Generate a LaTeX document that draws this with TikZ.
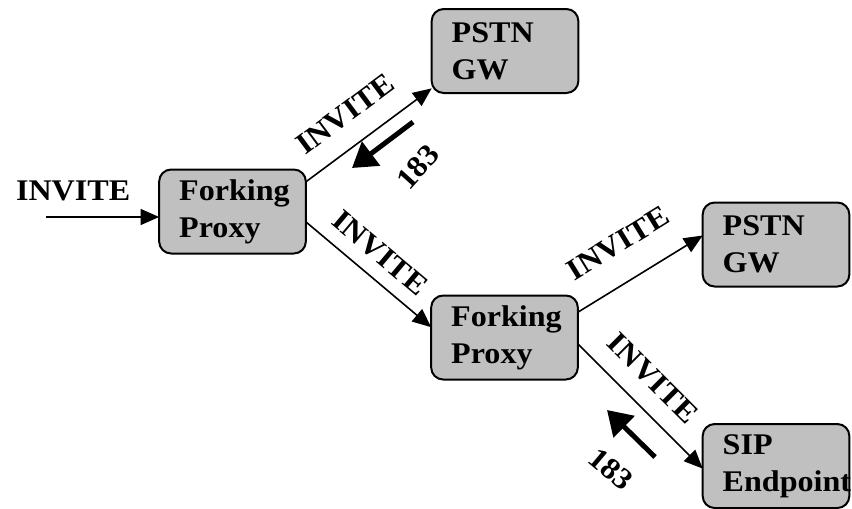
\documentclass[tikz,border=0pt]{standalone}
\usepackage{fontspec}
\setmainfont[FakeStretch=1.07]{Liberation Serif}
\usetikzlibrary{arrows.meta}
\definecolor{boxgray}{RGB}{192,192,192}
\begin{document}
\begin{tikzpicture}[x=0.75pt,y=-0.75pt,inner sep=0pt,outer sep=0pt,line width=1.2pt,
font=\fontsize{22.5}{27.75}\selectfont\bfseries,
>={Triangle[length=14pt,width=12pt]},
sipbox/.style={draw,fill=boxgray,rounded corners=9pt,line width=1.5pt,align=left,text width=80pt,inner xsep=15pt,minimum height=63pt},
resp/.style={line width=3.75pt,-{Triangle[length=18pt,width=22pt]}}]
\useasboundingbox (0,0) rectangle (852,508);
\draw (232.5,211.5) node[sipbox] (fp1) {Forking\\Proxy};
\draw (505,51) node[sipbox] (gw1) {PSTN\\GW};
\draw (504.5,337.5) node[sipbox] (fp2) {Forking\\Proxy};
\draw (776,244.5) node[sipbox] (gw2) {PSTN\\GW};
\draw (776,466) node[sipbox] (sip) {SIP\\Endpoint};
\coordinate (in) at (46,217);
\draw[->] (in) -- (fp1.west |- in) node[pos=0.24,above=12pt] (inv0) {INVITE};
\draw[->] (fp1.22) -- (gw1.207) node[pos=0.46,sloped,above=15.8pt] (inv1) {INVITE};
\draw[->] (fp1.-8) -- (fp2.172) node[pos=0.47,sloped,above=10.3pt] (inv2) {INVITE};
\draw[->] (fp2.19) -- (gw2.173) node[pos=0.48,sloped,above=20.7pt] (inv3) {INVITE};
\draw[->] (fp2.-5) -- (sip.182) node[pos=0.44,sloped,above=14.1pt] (inv4) {INVITE};
% 183 responses
\coordinate (r1s) at (413,122);
\coordinate (r1e) at (352,168);
\draw[resp] (r1s) -- (r1e);
\draw (418,167) node[rotate=48] (ring1) {183};
\coordinate (r2s) at (655,457);
\coordinate (r2e) at (607,410);
\draw[resp] (r2s) -- (r2e);
\draw (611,469) node[rotate=-40] (ring2) {183};
\end{tikzpicture}
\end{document}
